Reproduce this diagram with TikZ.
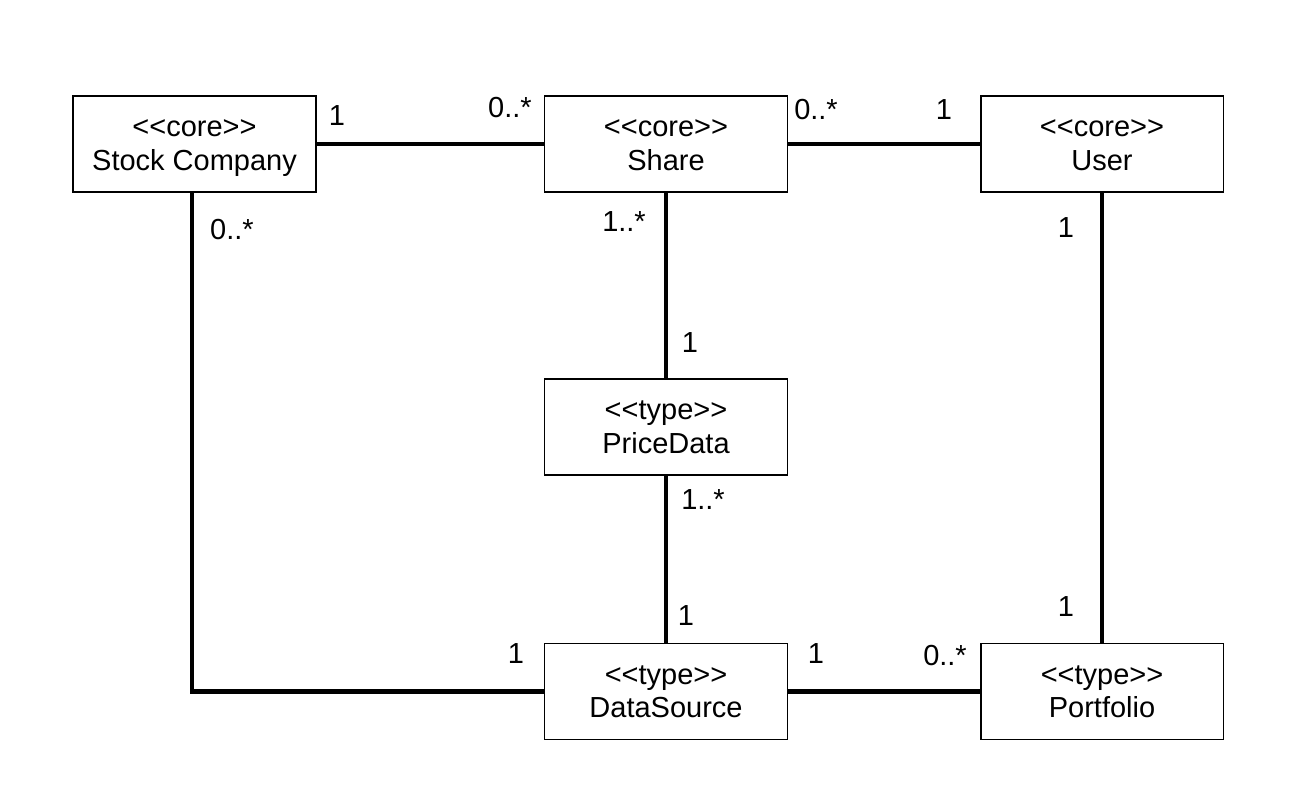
\documentclass[tikz,border=0pt]{standalone}
\usepackage{fontspec}
\setmainfont{Liberation Sans}[Ligatures=TeXReset]
\usepackage{tikz}
\usetikzlibrary{calc}

\begin{document}
\begin{tikzpicture}[x=0.02cm, y=-0.02cm,
box/.style={draw, line width=1.1pt, minimum width=4.86cm, minimum height=1.92cm, align=center, inner sep=0pt, text height=1.06cm, text depth=0.02cm, font=\fontsize{16.5}{18.8}\selectfont},
mult/.style={inner sep=0pt, font=\fontsize{16.5}{18.8}\selectfont},
assoc/.style={line width=2.3pt}]

\useasboundingbox (0,0) rectangle (1312,792);

% classes
\node [box] (sc) at (194.5,144) {<<core>>\\Stock Company};
\node [box] (share) at (666,144) {<<core>>\\Share};
\node [box] (user) at (1102,144) {<<core>>\\User};
\node [box] (price) at (666,427) {<<type>>\\PriceData};
\node [box] (ds) at (666,691.5) {<<type>>\\DataSource};
\node [box] (pf) at (1102,691.5) {<<type>>\\Portfolio};

% associations
\draw [assoc] (sc.east) -- (share.west);
\draw [assoc] (share.east) -- (user.west);
\draw [assoc] (share.south) -- (price.north);
\draw [assoc] (price.south) -- (ds.north);
\draw [assoc] (user.south) -- (pf.north);
\draw [assoc] (ds.east) -- (pf.west);
\draw [assoc] ([xshift=-0.05cm]sc.south) |- (ds.west);

% multiplicities
\node [mult] (m1) at (337,116) {1};
\node [mult] (m2) at (510,108) {0..*};
\node [mult] (m3) at (816,110) {0..*};
\node [mult] (m4) at (944,110) {1};
\node [mult] (m5) at (232,230) {0..*};
\node [mult] (m6) at (624,222) {1..*};
\node [mult] (m7) at (1066,228) {1};
\node [mult] (m8) at (690,343) {1};
\node [mult] (m9) at (703,500) {1..*};
\node [mult] (m10) at (686,616) {1};
\node [mult] (m11) at (1066,607) {1};
\node [mult] (m12) at (516,654) {1};
\node [mult] (m13) at (816,654) {1};
\node [mult] (m14) at (945,656) {0..*};

\end{tikzpicture}
\end{document}
